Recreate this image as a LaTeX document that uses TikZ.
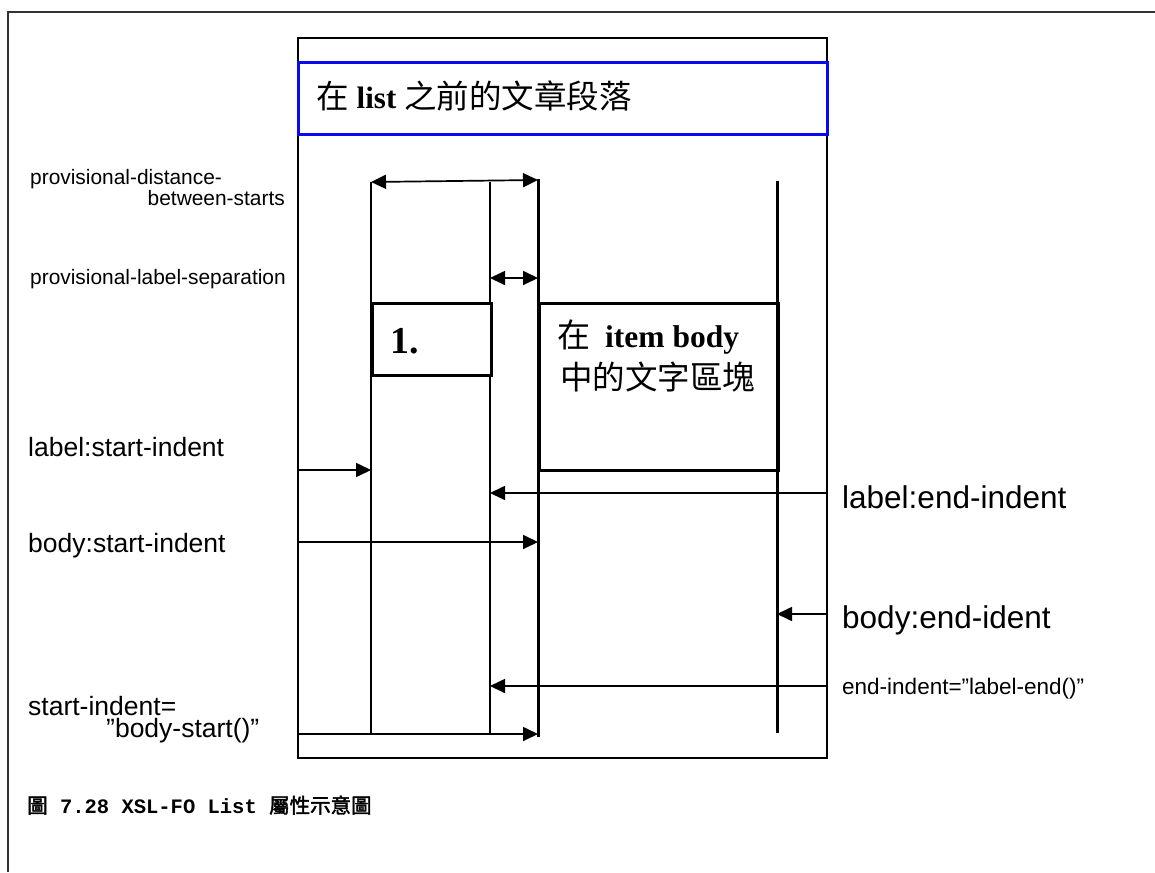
\documentclass[tikz,border=0pt]{standalone}
\usepackage{fontspec}
\setmainfont{Liberation Sans}
\newfontfamily\tnr{Liberation Serif}
\newfontfamily\cjk{Noto Sans CJK TC}
\newfontfamily\cjkb{Noto Sans CJK TC}[FakeBold=2]
\newfontfamily\cour{Liberation Mono}
\usetikzlibrary{arrows.meta}
\definecolor{fblue}{RGB}{10,10,240}
\definecolor{frame}{RGB}{50,50,50}
\begin{document}
\begin{tikzpicture}[x=1pt,y=-1pt,
  lbl/.style={inner sep=0pt, anchor=base west},
  thinln/.style={line width=1.7pt},
  thickln/.style={line width=3pt},
  arr/.style={line width=1.7pt, -{Triangle[length=15pt,width=14pt]}},
  darr/.style={line width=1.7pt, {Triangle[length=15pt,width=14pt]}-{Triangle[length=15pt,width=14pt]}},
  sma/.style={font=\fontsize{20.9pt}{23pt}\selectfont},
  mid/.style={font=\fontsize{26.5pt}{29pt}\selectfont},
  big/.style={font=\fontsize{31.5pt}{34pt}\selectfont},
]
\useasboundingbox (0,0) rectangle (1155,872);
% outer frame
\coordinate (fr1) at (1155,12);
\coordinate (fr2) at (8,12);
\coordinate (fr3) at (8,872);
\draw[line width=2pt, frame] (fr1) -- (fr2) -- (fr3);

% container
\node[draw, line width=2pt, minimum width=529pt, minimum height=720pt, anchor=north west, inner sep=0pt] (cont) at (297,37) {};
% paragraph before list
\node[draw=fblue, line width=2.6pt, minimum width=529pt, minimum height=72pt, anchor=north west, inner sep=0pt] (para) at (297,61) {};
\node[lbl] (ttl) at (316,109) {\fontsize{32.5pt}{36pt}\selectfont\cjk 在\hspace{8pt}{\tnr\bfseries\fontsize{31pt}{36pt}\selectfont list}\hspace{8pt}之前的文章段落};

% vertical lines
\coordinate (a1) at (371,182); \coordinate (a2) at (371,734);
\coordinate (b1) at (490,182); \coordinate (b2) at (490,734);
\coordinate (c1) at (538,179); \coordinate (c2) at (538,737);
\coordinate (d1) at (777,181); \coordinate (d2) at (777,733);

% arrows
\draw[darr] (a1) -- (c1 |- 0,180);
\draw[darr] (b1 |- 0,278) -- (c1 |- 0,278);
\draw[arr] (cont.west |- 0,470) -- (a1 |- 0,470);
\draw[arr] (cont.east |- 0,493) -- (b1 |- 0,493);
\draw[arr] (cont.west |- 0,542) -- (c1 |- 0,542);
\draw[arr] (cont.east |- 0,614) -- (d1 |- 0,614);
\draw[arr] (cont.east |- 0,686) -- (b1 |- 0,686);
\draw[arr] (cont.west |- 0,734) -- (c1 |- 0,734);

\draw[thinln] (a1) -- (a2);
\draw[thinln] (b1) -- (b2);
\draw[thickln] (c1) -- (c2);
\draw[thickln] (d1) -- (d2);

% label box and body box
\node[draw, line width=3pt, fill=white, minimum width=119pt, minimum height=72pt, anchor=north west, inner sep=0pt] (lb) at (371,302) {};
\node[lbl] (one) at (390,353) {\tnr\bfseries\fontsize{38pt}{40pt}\selectfont 1.};
\node[draw, line width=3pt, minimum width=239pt, minimum height=167pt, anchor=north west, inner sep=0pt] (bb) at (538,302) {};
\node[lbl] (bt1) at (557,347) {\fontsize{33pt}{36pt}\selectfont\cjk 在\hspace{15pt}{\tnr\bfseries\fontsize{31.5pt}{36pt}\selectfont item body}};
\node[lbl] (bt2) at (560,389) {\fontsize{32.5pt}{36pt}\selectfont\cjk 中的文字區塊};

% left labels
\node[lbl, sma] (pd1) at (30,184) {provisional-distance-};
\node[lbl, sma, anchor=base east] (pd2) at (285,205) {between-starts};
\node[lbl, sma] (pls) at (30,284) {provisional-label-separation};
\node[lbl, mid] (lsi) at (28,456) {label:start-indent};
\node[lbl, mid] (bsi) at (28,552) {body:start-indent};
\node[lbl, mid] (si1) at (28,715) {start-indent=};
\node[lbl, mid] (si2) at (106,737) {”body-start()”};

% right labels
\node[lbl, big] (lei) at (842,508) {label:end-indent};
\node[lbl, big] (bei) at (842,628) {body:end-ident};
\node[lbl, font=\fontsize{22.5pt}{25pt}\selectfont] (ei) at (842,694) {end-indent=”label-end()”};

% caption
\node[lbl] (cap) at (27,813) {\fontsize{20.5pt}{22pt}\selectfont{\cjkb 圖}{\cour\bfseries\ 7.28 XSL-FO List\ }{\cjkb 屬性示意圖}};
\end{tikzpicture}
\end{document}
